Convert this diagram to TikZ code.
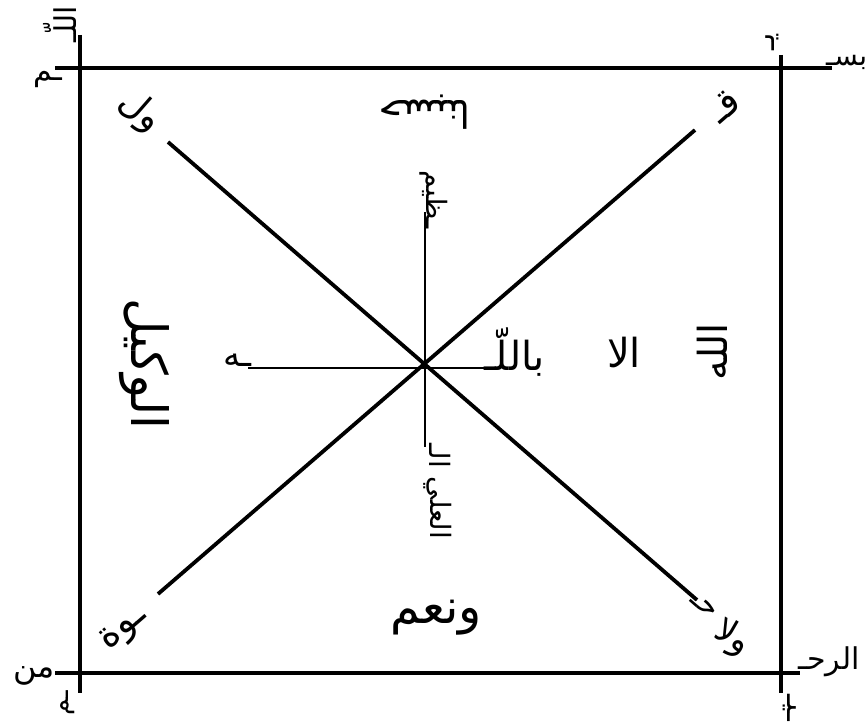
\documentclass[tikz,border=0pt]{standalone}
\usepackage{fontspec}
\TeXXeTstate=1
\newfontfamily\arabicfont[Script=Arabic]{DejaVu Sans}
\newcommand{\ar}[1]{\beginR #1\endR}
\begin{document}
\begin{tikzpicture}[x=1pt,y=-1pt,
  ln/.style={line width=3.8pt},
  thin/.style={line width=2.8pt},
  arfont/.style={font=\fontsize{#1}{#1}\selectfont\arabicfont, inner sep=0pt, text=black}]
\fill[white] (0,0) rectangle (867,727);
\useasboundingbox (0,0) rectangle (867,727);
% border end points
\coordinate (lvT) at (80,35);
\coordinate (lvB) at (80,693);
\coordinate (tL) at (55,68);
\coordinate (tR) at (832,68);
\coordinate (rvT) at (781,55);
\coordinate (rvB) at (781,693);
\coordinate (bL) at (55,673);
\coordinate (bR) at (800,673);
% inner lines
\coordinate (c) at (425,368);
\coordinate (dTL) at (168,142);
\coordinate (dBR) at (697,600);
\coordinate (dTR) at (695,130);
\coordinate (dBL) at (158,594);
\coordinate (vT) at (425,212);
\coordinate (vB) at (425,447);
\coordinate (hL) at (248,368);
\coordinate (hR) at (490,368);
\draw[ln] (lvT) -- (lvB);
\draw[ln] (tL) -- (tR);
\draw[ln] (rvT) -- (rvB);
\draw[ln] (bL) -- (bR);
\draw[ln] (dTL) -- (dBR);
\draw[ln] (dBL) -- (dTR);
\draw[thin] (vT) -- (vB);
\draw[thin] (hL) -- (hR);
% border texts
\node[arfont=28, anchor=west] (bism) at (826,62) {\ar{بسـ}};
\node[arfont=30] (mim1) at (48,80) {\ar{ـم}};
\node[arfont=30, rotate=90] (allah1) at (60,24) {\ar{اللّـ}};
\node[arfont=30, rotate=90] (ya1) at (772,42) {\ar{يـ}};
\node[arfont=30, anchor=west] (rah) at (798,662) {\ar{الرحـ}};
\node[arfont=32] (min) at (34,676) {\ar{من}};
\node[arfont=26, rotate=90] (mim2) at (68,703) {\ar{ـم}};
\node[arfont=30, rotate=-90] (ya2) at (790,708) {\ar{ـيـ}};
% inner texts
\node[arfont=38, rotate=180] (hasb) at (425,112) {\ar{حسبنا}};
\node[arfont=48] (nima) at (436,618) {\ar{ونعم}};
\node[arfont=50, rotate=-90] (wakil) at (144,364) {\ar{الوكيل}};
\node[arfont=34, anchor=east] (ha) at (252,360) {\ar{ـه}};
\node[arfont=40, anchor=west] (bill) at (484,352) {\ar{باللّـ}};
\node[arfont=40] (illa) at (624,352) {\ar{الا}};
\node[arfont=40, rotate=90] (allah2) at (712,352) {\ar{الله}};
\node[arfont=28, rotate=-90] (azim) at (434,200) {\ar{ـظيم}};
\node[arfont=28, rotate=-90] (al) at (440,456) {\ar{الـ}};
\node[arfont=28, rotate=-90] (ali) at (438,508) {\ar{العلي}};
\node[arfont=36, rotate=-41] (wal) at (140,112) {\ar{ول}};
\node[arfont=30, rotate=-41] (ha2) at (704,606) {\ar{حـ}};
\node[arfont=34, rotate=-30] (wala) at (732,638) {\ar{ولا}};
\node[arfont=38, rotate=41] (qaf) at (724,106) {\ar{قـ}};
\node[arfont=38, rotate=41] (quwa) at (124,630) {\ar{ـوة}};
\end{tikzpicture}
\end{document}
